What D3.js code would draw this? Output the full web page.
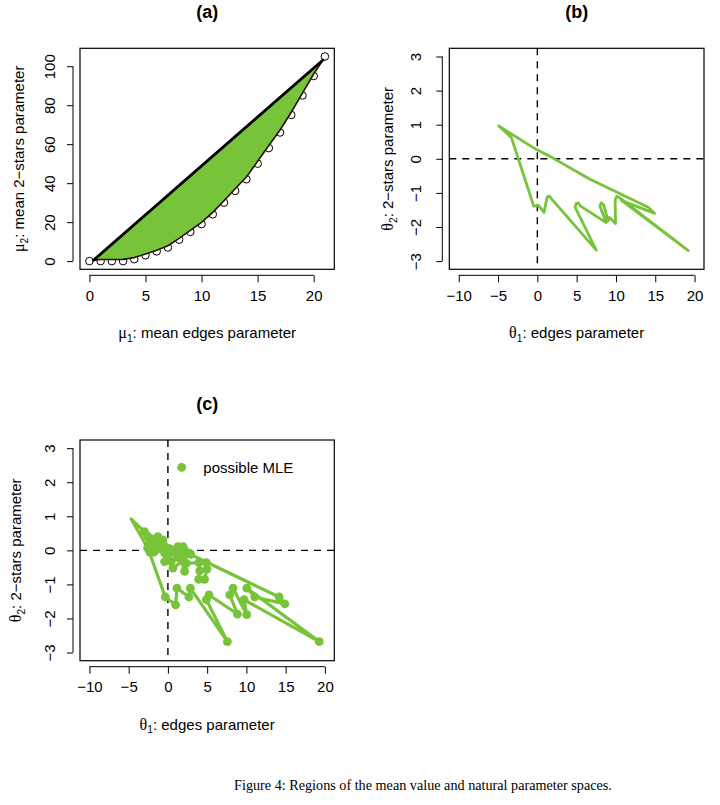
<!DOCTYPE html>
<html>
<head>
<meta charset="utf-8">
<script src="https://cdnjs.cloudflare.com/ajax/libs/d3/7.8.5/d3.min.js"></script>
<style>
  body { margin: 0; background: #fff; }
</style>
</head>
<body>
<div id="fig"></div>
<script>
//Data

	//(a) mean value space: edges (mu1) and minimum 2-stars (mu2) of the sample points
	var mu1 = [0,1,2,3,4,5,6,7,8,9,10,11,12,13,14,15,16,17,18,19,20,21];
	var mu2 = [0,0,0,0,1,3,5,7,11,15,19,24,30,36,42,50,58,66,75,85,95,105];
	//boundary of the shaded region (lower edge, upper edge closes back straight)
	var regionMu = [[0.35,0.4],[1,0.8],[2,0.8],[3,0.9],[4,1.8],[5,3.6],[6,5.6],[7,7.9],[8,11.7],[9,15.8],
		[10,19.9],[11,25],[12,31],[13,37.1],[14,43.2],[15,51.2],[16,59.3],[17,67.3],[18,76.4],[19,86.2],[20,96],[20.83,103.2]];

	//(b) natural parameter space boundary (theta1, theta2)
	var thetaB = [[-4.9,0.96],[-4.75,0.93],[-3.3,0.62],[-0.45,-1.39],[0.15,-1.37],[0.85,-1.57],[1.25,-1.12],[1.5,-1.09],
		[1.75,-1.16],[7.5,-2.68],[4.8,-1.42],[4.95,-1.31],[5.25,-1.3],[5.45,-1.38],[8.75,-1.87],[7.95,-1.38],[8.15,-1.29],
		[8.45,-1.36],[9.0,-1.82],[9.2,-1.72],[9.95,-1.9],[9.9,-1.2],[10.1,-1.1],[10.4,-1.13],[19.2,-2.69],[10.7,-1.22],
		[14.9,-1.6],[14.1,-1.42],[6.7,-0.6],[2.0,0.02],[-0.1,0.27],[-4.9,0.96]];

	//(c) possible MLE points, in drawing order (first and last are the tip, no dot)
	var thetaC = [[-4.68,0.92],[-2.55,0.06],[-0.33,-1.37],[0.98,-1.6],[1.15,-1.11],[2.68,-1.37],[2.86,-1.11],[7.58,-2.68],
		[4.9,-1.45],[5.23,-1.31],[8.86,-1.87],[7.88,-1.31],[8.3,-1.11],[10.05,-1.89],[9.7,-1.45],[19.28,-2.68],[10.05,-1.11],
		[11.07,-1.37],[14.9,-1.57],[14.17,-1.37],[2.9,-0.12],[4.9,-0.36],[4.98,-0.55],[4.68,-0.85],[3.92,-0.85],[4.05,-0.6],
		[3.96,-0.36],[2.35,-0.38],[2.13,-0.62],[1.7,-0.28],[2.77,-0.08],[2.3,-0.1],[2.13,0.01],[1.92,0.11],[1.4,-0.05],
		[1.28,0.11],[0.85,0.01],[1.2,-0.2],[2.0,-0.3],[0.64,-0.52],[0.43,-0.33],[-0.42,-0.33],[0,-0.18],[-0.2,-0.1],
		[0.43,-0.03],[0.8,-0.05],[0.2,0.05],[0,0.06],[-0.43,-0.08],[-0.5,0.15],[-0.85,0.21],[-0.64,0.31],[-1.0,0.2],
		[-1.1,0.05],[-1.28,0.4],[-1.49,0.01],[-1.7,0.3],[-1.8,-0.05],[-1.92,0.21],[-2.13,0.31],[-2.3,-0.05],[-2.2,0.35],
		[-2.55,0.11],[-2.6,0.42],[-3.0,0.55],[-4.68,0.92]];

	//Axis ticks
	var ticksMu1 = [0,5,10,15,20];
	var ticksMu2 = [0,20,40,60,80,100];
	var ticksTheta1 = [-10,-5,0,5,10,15,20];
	var ticksTheta2 = [-3,-2,-1,0,1,2,3];

//General use variables
	var W = 720, H = 805;
	var green = "#77c43b";
	var fs = 15;
	var sans = "'Liberation Sans', Arial, Helvetica, sans-serif";
	var serif = "'Liberation Serif', 'DejaVu Serif', 'Times New Roman', serif";
	var fmt = d3.format("d");

	var svg = d3.select("#fig").append("svg")
		.attr("width", W)
		.attr("height", H)
		.style("font-family", sans);
	svg.append("rect").attr("width", W).attr("height", H).attr("fill", "#fff");

	//R style scale: 4% padding around the data range
	function rScale(lim, r0, r1) {
		var pad = 0.04 * (lim[1] - lim[0]);
		return d3.scaleLinear().domain([lim[0] - pad, lim[1] + pad]).range([r0, r1]);
	}

	//text with a greek symbol and a subscript, e.g. mu_1: ...
	function greekLabel(sel, sym, sub, rest) {
		sel.append("tspan").style("font-family", serif).attr("font-size", fs + 1).text(sym);
		sel.append("tspan").attr("font-size", fs * 0.68).attr("dy", 3.5).text(sub);
		sel.append("tspan").attr("dy", -3.5).text(rest);
	}

	function panel(p) {
		var g = svg.append("g");
		var x = rScale(p.xlim, p.box[0], p.box[2]);
		var y = rScale(p.ylim, p.box[3], p.box[1]);

		//x axis
		var xa = g.append("g")
			.attr("transform", "translate(0," + (p.box[3] + 6) + ")")
			.call(d3.axisBottom(x).tickValues(p.xticks).tickFormat(fmt).tickSize(7).tickSizeOuter(0));
		xa.select(".domain").remove();
		xa.append("line")
			.attr("x1", x(p.xticks[0])).attr("x2", x(p.xticks[p.xticks.length - 1]))
			.attr("stroke", "#000");
		xa.selectAll(".tick line").attr("stroke", "#000");
		xa.selectAll("text")
			.attr("y", 20)
			.attr("dy", "0.35em")
			.attr("font-size", fs)
			.style("font-family", sans)
			.attr("fill", "#000");

		//y axis, labels parallel to the axis
		var ya = g.append("g")
			.attr("transform", "translate(" + (p.box[0] - 7) + ",0)")
			.call(d3.axisLeft(y).tickValues(p.yticks).tickFormat(fmt).tickSize(6).tickSizeOuter(0));
		ya.select(".domain").remove();
		ya.append("line")
			.attr("y1", y(p.yticks[0])).attr("y2", y(p.yticks[p.yticks.length - 1]))
			.attr("stroke", "#000");
		ya.selectAll(".tick line").attr("stroke", "#000");
		ya.selectAll("text")
			.attr("x", null)
			.attr("dy", null)
			.attr("text-anchor", "middle")
			.attr("transform", "translate(" + (-p.ylabOff) + ",0) rotate(-90)")
			.attr("font-size", fs)
			.style("font-family", sans)
			.attr("fill", "#000");

		//plot box
		g.append("rect")
			.attr("x", p.box[0]).attr("y", p.box[1])
			.attr("width", p.box[2] - p.box[0]).attr("height", p.box[3] - p.box[1])
			.attr("fill", "none").attr("stroke", "#000").attr("stroke-width", 1.2);

		//title
		g.append("text")
			.attr("x", (p.box[0] + p.box[2]) / 2).attr("y", p.box[1] - 30)
			.attr("text-anchor", "middle")
			.attr("font-size", 18).attr("font-weight", "bold")
			.text(p.title);

		//axis titles
		var xt = g.append("text")
			.attr("x", (p.box[0] + p.box[2]) / 2).attr("y", p.box[3] + 69)
			.attr("text-anchor", "middle").attr("font-size", fs);
		greekLabel(xt, p.xlab[0], p.xlab[1], p.xlab[2]);

		var yt = g.append("text")
			.attr("transform", "translate(" + p.ytitleX + "," + (p.box[1] + p.box[3]) / 2 + ") rotate(-90)")
			.attr("text-anchor", "middle").attr("font-size", fs);
		greekLabel(yt, p.ylab[0], p.ylab[1], p.ylab[2]);

		return {g: g, x: x, y: y, box: p.box};
	}

	function zeroLines(P) {
		P.g.append("line")
			.attr("x1", P.x(0)).attr("x2", P.x(0))
			.attr("y1", P.box[1]).attr("y2", P.box[3])
			.attr("stroke", "#000").attr("stroke-width", 1.4).attr("stroke-dasharray", "7,6");
		P.g.append("line")
			.attr("x1", P.box[0]).attr("x2", P.box[2])
			.attr("y1", P.y(0)).attr("y2", P.y(0))
			.attr("stroke", "#000").attr("stroke-width", 1.4).attr("stroke-dasharray", "7,6");
	}

//(a)
	var A = panel({
		box: [80, 48.3, 334.3, 269.3], xlim: [0, 21], ylim: [0, 105],
		xticks: ticksMu1, yticks: ticksMu2, title: "(a)", ylabOff: 18, ytitleX: 24,
		xlab: ["\u03bc", "1", ": mean edges parameter"],
		ylab: ["\u03bc", "2", ": mean 2\u2212stars parameter"]
	});

	A.g.selectAll("circle.pt")
		.data(mu1)
		.enter()
		.append("circle")
			.attr("class", "pt")
			.attr("cx", function(d) { return A.x(d); })
			.attr("cy", function(d, i) { return A.y(mu2[i]); })
			.attr("r", 3.8)
			.attr("fill", "none")
			.attr("stroke", "#000")
			.attr("stroke-width", 1);

	var region = d3.line()
		.x(function(d) { return A.x(d[0]); })
		.y(function(d) { return A.y(d[1]); });

	A.g.append("path")
		.datum(regionMu)
		.attr("d", region(regionMu) + "Z")
		.attr("fill", green)
		.attr("stroke", "#2a0f06")
		.attr("stroke-width", 1.6)
		.attr("stroke-linejoin", "round");

	A.g.append("path")
		.datum([regionMu[0], regionMu[regionMu.length - 1]])
		.attr("d", region)
		.attr("fill", "none")
		.attr("stroke", "#000")
		.attr("stroke-width", 2.8)
		.attr("stroke-linecap", "round");

//(b)
	var B = panel({
		box: [449.3, 48.3, 704, 269.3], xlim: [-10, 20], ylim: [-3, 3],
		xticks: ticksTheta1, yticks: ticksTheta2, title: "(b)", ylabOff: 21, ytitleX: 393,
		xlab: ["\u03b8", "1", ": edges parameter"],
		ylab: ["\u03b8", "2", ": 2\u2212stars parameter"]
	});
	zeroLines(B);

	var lineB = d3.line()
		.x(function(d) { return B.x(d[0]); })
		.y(function(d) { return B.y(d[1]); });

	B.g.append("path")
		.datum(thetaB)
		.attr("d", lineB)
		.attr("fill", "none")
		.attr("stroke", green)
		.attr("stroke-width", 2.8)
		.attr("stroke-linejoin", "round")
		.attr("stroke-linecap", "round");

//(c)
	var C = panel({
		box: [80, 440, 334.3, 660.7], xlim: [-10, 20], ylim: [-3, 3],
		xticks: ticksTheta1, yticks: ticksTheta2, title: "(c)", ylabOff: 18, ytitleX: 21,
		xlab: ["\u03b8", "1", ": edges parameter"],
		ylab: ["\u03b8", "2", ": 2\u2212stars parameter"]
	});
	zeroLines(C);

	var lineC = d3.line()
		.x(function(d) { return C.x(d[0]); })
		.y(function(d) { return C.y(d[1]); });

	C.g.append("path")
		.datum(thetaC)
		.attr("d", lineC)
		.attr("fill", "none")
		.attr("stroke", green)
		.attr("stroke-width", 3.2)
		.attr("stroke-linejoin", "round")
		.attr("stroke-linecap", "round");

	C.g.selectAll("circle.mle")
		.data(thetaC.slice(1, -1))
		.enter()
		.append("circle")
			.attr("class", "mle")
			.attr("cx", function(d) { return C.x(d[0]); })
			.attr("cy", function(d) { return C.y(d[1]); })
			.attr("r", 4.4)
			.attr("fill", green);

	//legend
	C.g.append("circle")
		.attr("cx", 181.7).attr("cy", 467.3).attr("r", 4.4).attr("fill", green);
	C.g.append("text")
		.attr("x", 203.3).attr("y", 467.3).attr("dy", "0.35em")
		.attr("font-size", fs)
		.text("possible MLE");

//Caption
	svg.append("text")
		.attr("x", 423).attr("y", 790)
		.attr("text-anchor", "middle")
		.style("font-family", serif)
		.attr("font-size", 14.2)
		.text("Figure 4: Regions of the mean value and natural parameter spaces.");
</script>
</body>
</html>
